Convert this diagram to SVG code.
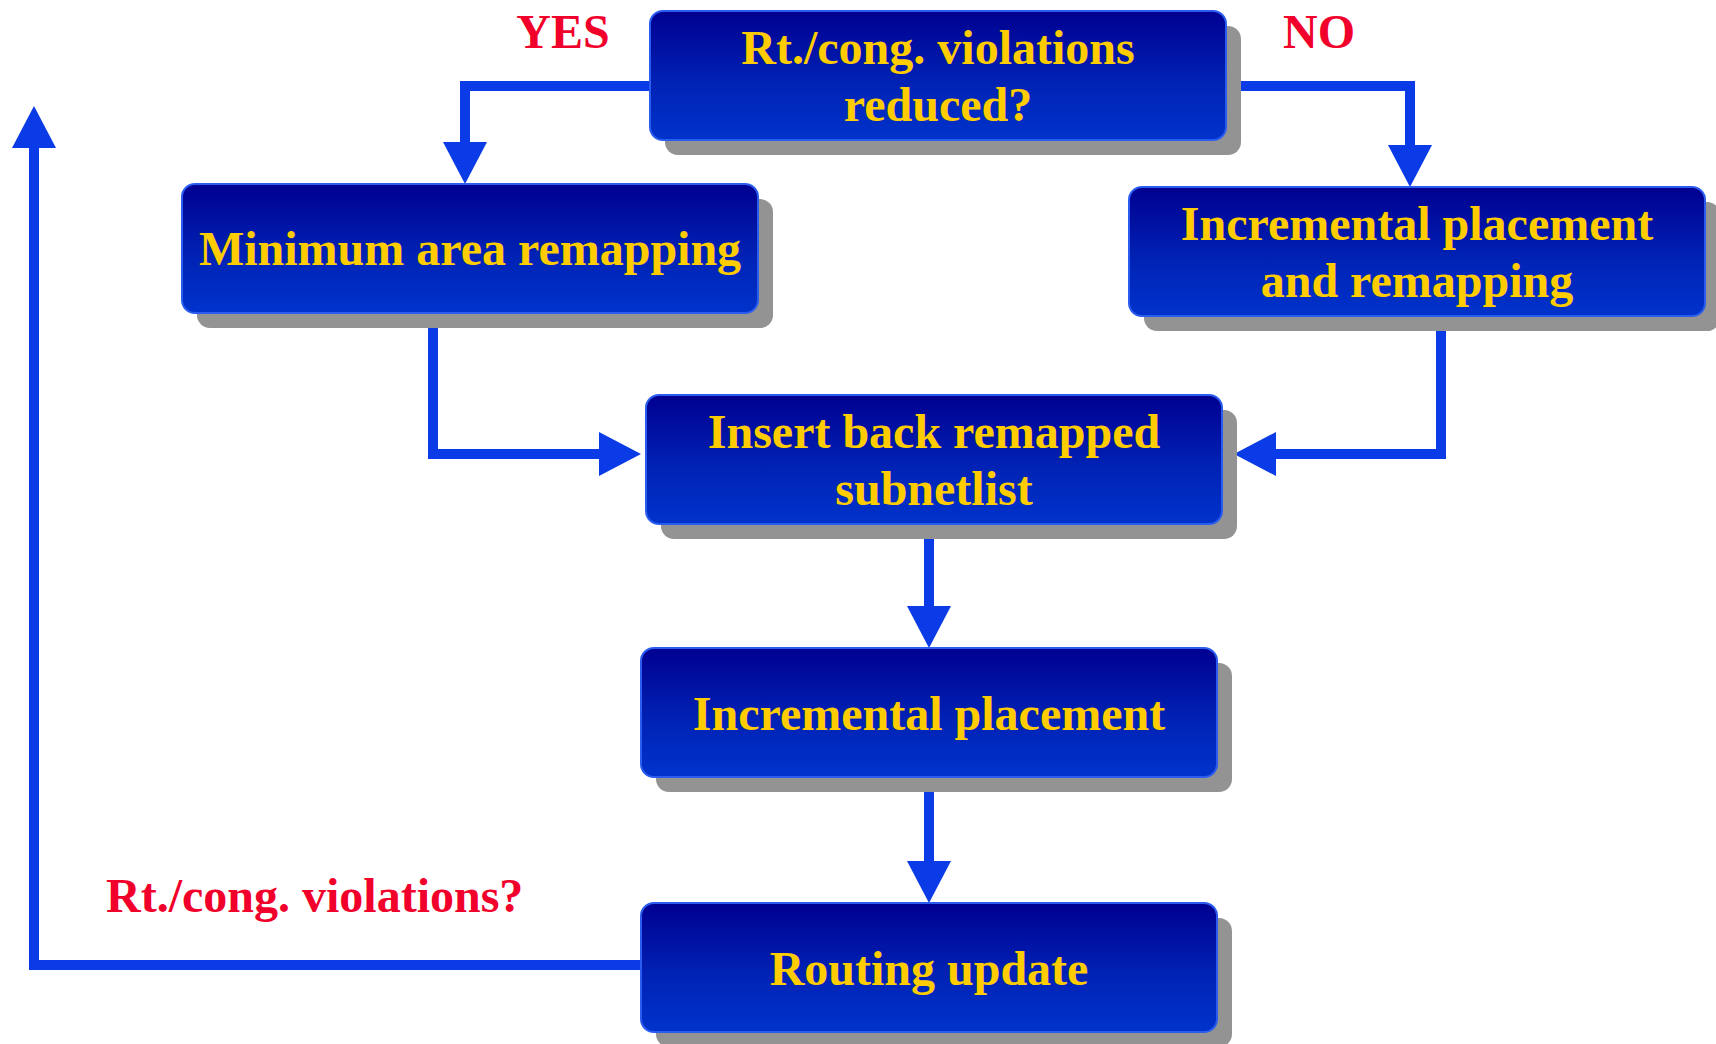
<svg xmlns="http://www.w3.org/2000/svg" width="1716" height="1044" viewBox="0 0 1716 1044">
<defs>
<linearGradient id="boxg" x1="0" y1="0" x2="0" y2="1">
<stop offset="0" stop-color="#000090"/>
<stop offset="0.55" stop-color="#0022b4"/>
<stop offset="1" stop-color="#0033cc"/>
</linearGradient>
<marker id="ah" markerUnits="userSpaceOnUse" markerWidth="44" markerHeight="46" refX="0" refY="22" orient="auto" viewBox="0 0 44 44">
<path d="M0,0 L42,22 L0,44 Z" fill="#0a3be6"/>
</marker>
<style>
.shadow{fill:#939393}
.box{fill:url(#boxg);stroke:#2a5cf0;stroke-width:2}
.t{font-family:"Liberation Serif","Times New Roman",serif;font-weight:bold;font-size:48px;fill:#ffcc00;text-anchor:middle}
.lbl{font-family:"Liberation Serif","Times New Roman",serif;font-weight:bold;font-size:48px;fill:#f0002a}
.c{fill:none;stroke:#0a3be6;stroke-width:10;stroke-linejoin:miter}
</style>
</defs>
<rect width="1716" height="1044" fill="#ffffff"/>
<g id="connectors">
<path class="c" d="M652,86 H465 V142" marker-end="url(#ah)"/>
<path class="c" d="M1224,86 H1410 V145" marker-end="url(#ah)"/>
<path class="c" d="M433,312 V454 H599" stroke-linecap="round" marker-end="url(#ah)"/>
<path class="c" d="M1441,330 V454 H1276" marker-end="url(#ah)"/>
<path class="c" d="M929,538 V606" marker-end="url(#ah)"/>
<path class="c" d="M929,788 V861" stroke-linecap="round" marker-end="url(#ah)"/>
<path class="c" d="M641,965 H34 V148" stroke-linecap="round" marker-end="url(#ah)"/>
</g>
<g id="labels">
<text class="lbl" x="563" y="48" text-anchor="middle">YES</text>
<text class="lbl" x="1319" y="48" text-anchor="middle">NO</text>
<text class="lbl" x="106" y="912">Rt./cong. violations?</text>
</g>
<g id="node-decision">
<rect class="shadow" x="665" y="26" width="576" height="129" rx="13"/>
<rect class="box" x="650" y="11" width="576" height="129" rx="13"/>
<text class="t" x="938" y="64">Rt./cong. violations</text>
<text class="t" x="938" y="121">reduced?</text>
</g>
<g id="node-min-area">
<rect class="shadow" x="197" y="199" width="576" height="129" rx="13"/>
<rect class="box" x="182" y="184" width="576" height="129" rx="13"/>
<text class="t" x="470" y="265">Minimum area remapping</text>
</g>
<g id="node-inc-place-remap">
<rect class="shadow" x="1144" y="202" width="576" height="129" rx="13"/>
<rect class="box" x="1129" y="187" width="576" height="129" rx="13"/>
<text class="t" x="1417" y="240">Incremental placement</text>
<text class="t" x="1417" y="297">and remapping</text>
</g>
<g id="node-insert">
<rect class="shadow" x="661" y="410" width="576" height="129" rx="13"/>
<rect class="box" x="646" y="395" width="576" height="129" rx="13"/>
<text class="t" x="934" y="448">Insert back remapped</text>
<text class="t" x="934" y="505">subnetlist</text>
</g>
<g id="node-inc-place">
<rect class="shadow" x="656" y="663" width="576" height="129" rx="13"/>
<rect class="box" x="641" y="648" width="576" height="129" rx="13"/>
<text class="t" x="929" y="730">Incremental placement</text>
</g>
<g id="node-routing">
<rect class="shadow" x="656" y="918" width="576" height="129" rx="13"/>
<rect class="box" x="641" y="903" width="576" height="129" rx="13"/>
<text class="t" x="929" y="985">Routing update</text>
</g>
</svg>
